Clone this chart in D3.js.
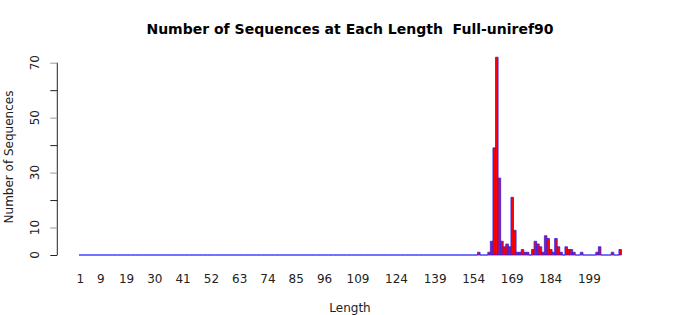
<!DOCTYPE html>
<html>
<head>
<meta charset="utf-8">
<script src="https://cdn.jsdelivr.net/npm/d3@7"></script>
<style>
  body { margin: 0; background: #fff; }
  text { font-family: "DejaVu Sans", sans-serif; }
</style>
</head>
<body>
<div id="chart"></div>
<script>
// sequence lengths 1..211 (every length is a category)
const lengths = d3.range(1, 212);
// lengths that have at least one sequence, and their counts
const seenLengths = [156, 160, 161, 162, 163, 164, 165, 166, 167, 168, 169, 170, 171, 172, 173, 174, 175,
    177, 178, 179, 180, 181, 182, 183, 184, 185, 186, 187, 188, 190, 191, 192, 193, 196, 202, 203, 208, 211];
const seenCounts = [1, 1, 5, 39, 72, 28, 5, 3, 4, 3, 21, 9, 1, 1, 2, 1, 1,
    2, 5, 4, 3, 1, 7, 6, 2, 1, 6, 3, 1, 3, 2, 2, 1, 1, 1, 3, 1, 2];
const xLabels = [1, 9, 19, 30, 41, 52, 63, 74, 85, 96, 109, 124, 139, 154, 169, 184, 199];
const yTicks = [0, 10, 20, 30, 40, 50, 60, 70];
const yLabels = [0, 10, 30, 50, 70];

const width = 700, height = 315;

let countOf = new Map(seenLengths.map((l, i) => [l, seenCounts[i]]));
let data = lengths.map(l => ({len: l, n: countOf.get(l) || 0}));

let svg = d3.select("#chart").append("svg")
    .attr("width", width)
    .attr("height", height);

let x = d3.scaleBand()
    .domain(lengths)
    .range([79, 621.5])
    .padding(0);

let y = d3.scaleLinear()
    .domain([0, 72])
    .range([255, 57.2]);

// bars (paths so zero-height bars still show their border)
svg.append("g")
    .selectAll("path")
    .data(data)
    .enter()
    .append("path")
    .attr("d", d => {
        let x0 = x(d.len), x1 = x(d.len) + x.bandwidth();
        return `M${x0},${y(0)}H${x1}V${y(d.n)}H${x0}Z`;
    })
    .attr("fill", "red")
    .attr("stroke", "#2222ff")
    .attr("stroke-width", 0.8);

// y axis
let yAxis = svg.append("g")
    .attr("transform", "translate(57.3,0)")
    .call(d3.axisLeft(y).tickValues(yTicks).tickSize(7).tickFormat(""));
yAxis.select(".domain").attr("d", `M0,${y(0)}V${y(70)}`).attr("stroke", "#222");
yAxis.selectAll(".tick line")
    .attr("stroke", d => (d > 0 && yLabels.includes(d)) ? "#999" : "#222");

svg.append("g")
    .selectAll("text")
    .data(yLabels)
    .enter()
    .append("text")
    .attr("transform", d => `translate(39,${y(d)})rotate(-90)`)
    .attr("text-anchor", "middle")
    .attr("font-size", 12)
    .attr("fill", "#222")
    .text(d => d);

// x labels (no axis line)
svg.append("g")
    .selectAll("text")
    .data(xLabels)
    .enter()
    .append("text")
    .attr("x", d => x(d) + x.bandwidth() / 2)
    .attr("y", 283)
    .attr("text-anchor", "middle")
    .attr("font-size", 12)
    .attr("fill", "#222")
    .text(d => d);

// title and axis titles
svg.append("text")
    .attr("x", 350)
    .attr("y", 34)
    .attr("text-anchor", "middle")
    .attr("font-size", 14)
    .attr("font-weight", "bold")
    .style("white-space", "pre")
    .text("Number of Sequences at Each Length  Full-uniref90");

svg.append("text")
    .attr("x", 350)
    .attr("y", 312)
    .attr("text-anchor", "middle")
    .attr("font-size", 12)
    .attr("fill", "#222")
    .text("Length");

svg.append("text")
    .attr("transform", `translate(13,157)rotate(-90)`)
    .attr("text-anchor", "middle")
    .attr("font-size", 12)
    .attr("fill", "#222")
    .text("Number of Sequences");
</script>
</body>
</html>
